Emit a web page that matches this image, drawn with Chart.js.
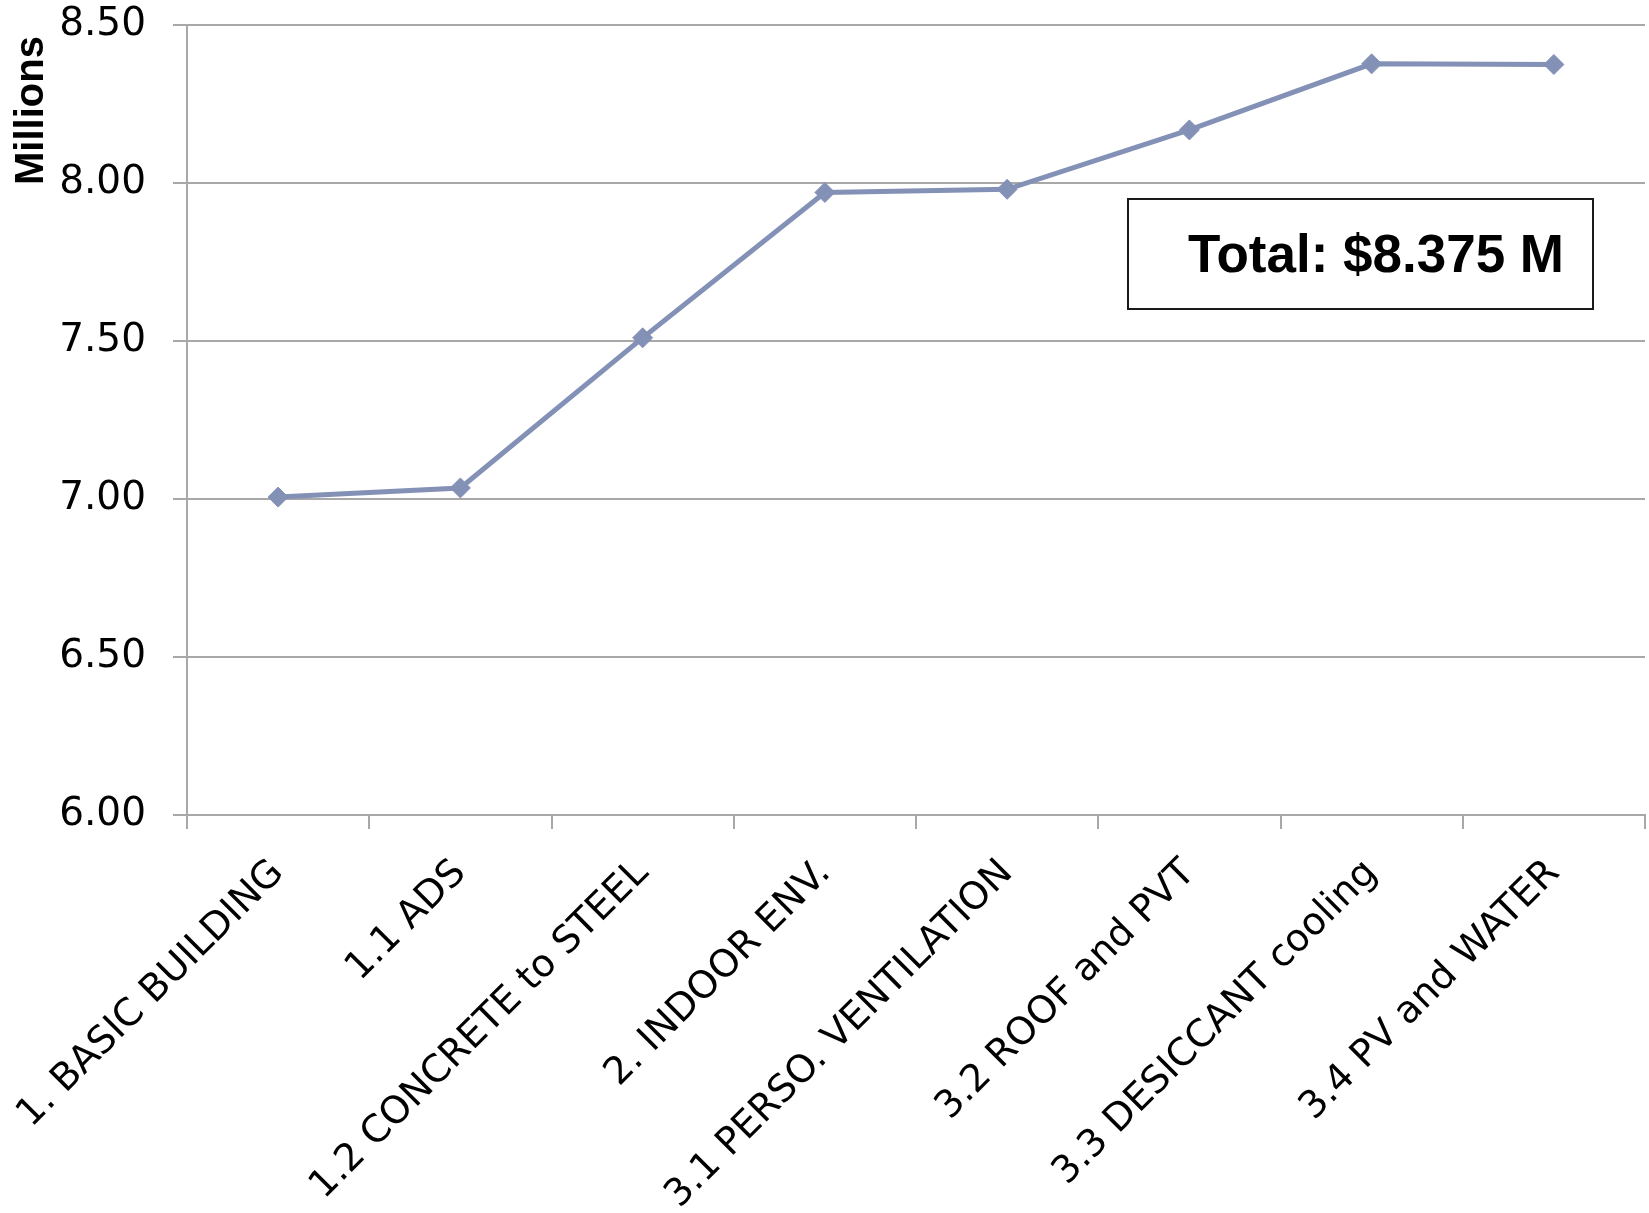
<!DOCTYPE html>
<html>
<head>
<meta charset="utf-8">
<script src="https://cdn.jsdelivr.net/npm/chart.js"></script>
<style>
  html, body { margin: 0; padding: 0; background: #fff; }
  #wrap { position: relative; width: 1649px; height: 1213px; }
  #total {
    position: absolute; left: 1127px; top: 198px; width: 435px; height: 108px;
    border: 2px solid #1a1a1a; background: #fff;
    font-family: "Liberation Sans", Arial, sans-serif; font-weight: bold; font-size: 53px;
    color: #000; text-align: right; line-height: 108px; padding-right: 28px; box-sizing: content-box;
  }
</style>
</head>
<body>
<div id="wrap">
  <canvas id="cost" width="1649" height="1213"></canvas>
  <div id="total"></div>
</div>
<script>
// steps of the building scenario and cumulative cost in millions
var steps = ["1. BASIC BUILDING", "1.1 ADS", "1.2 CONCRETE to STEEL", "2. INDOOR ENV.",
             "3.1 PERSO. VENTILATION", "3.2 ROOF and PVT", "3.3 DESICCANT cooling", "3.4 PV and WATER"];
var costMillions = [7.006, 7.035, 7.51, 7.97, 7.98, 8.168, 8.377, 8.375];
var yTicks = [6.0, 6.5, 7.0, 7.5, 8.0, 8.5];

var lineColor = "#8491B6";
var gridColor = "#a8a8a8";

document.getElementById("total").textContent =
  "Total: $" + costMillions[costMillions.length - 1].toFixed(3) + " M";

new Chart(document.getElementById("cost"), {
  type: "line",
  data: {
    labels: steps,
    datasets: [{
      label: "Cost",
      data: costMillions,
      borderColor: lineColor,
      backgroundColor: lineColor,
      borderWidth: 5,
      pointStyle: "rectRot",
      pointRadius: 10,
      pointBorderWidth: 1,
      pointBackgroundColor: lineColor,
      pointBorderColor: lineColor,
      tension: 0
    }]
  },
  options: {
    responsive: false,
    animation: false,
    layout: { autoPadding: false, padding: { left: 8, right: 4, top: 0, bottom: 0 } },
    plugins: { legend: { display: false }, tooltip: { enabled: false } },
    scales: {
      x: {
        offset: true,
        grid: { offset: true, drawOnChartArea: false, drawTicks: true, tickLength: 14, color: gridColor, lineWidth: 2 },
        border: { color: gridColor, width: 2 },
        ticks: {
          color: "#000", minRotation: 45, maxRotation: 45, padding: 22, autoSkip: false,
          font: { family: "DejaVu Sans", size: 38 }
        },
        afterFit: function (s) {
          s.height = 1213 - 815;
          s.paddingLeft = 0;
          s.paddingRight = 0;
        }
      },
      y: {
        min: 6, max: 8.5,
        afterBuildTicks: function (s) { s.ticks = yTicks.map(function (v) { return { value: v }; }); },
        grid: { color: gridColor, lineWidth: 2, tickLength: 14 },
        border: { color: gridColor, width: 2 },
        ticks: {
          color: "#000", padding: 27,
          font: { family: "DejaVu Sans", size: 39 },
          callback: function (v) { return Number(v).toFixed(2); }
        },
        title: {
          display: true, text: "Millions ", align: "end", color: "#000",
          font: { family: "Liberation Sans", size: 40, weight: "bold" },
          padding: { top: 0, bottom: 0 }
        },
        afterFit: function (s) {
          s.width = 187 - 8;
          s.paddingTop = 25;
          s.paddingBottom = 0;
        }
      }
    }
  }
});
</script>
</body>
</html>
